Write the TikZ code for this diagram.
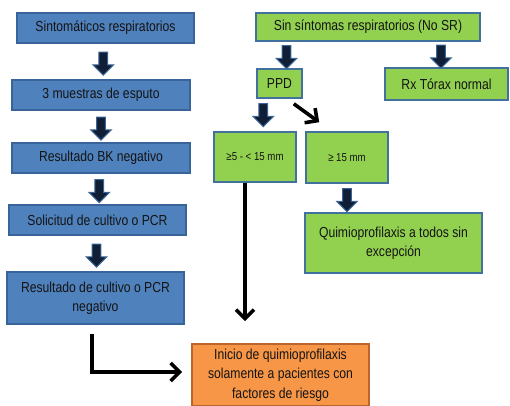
\documentclass[tikz,border=0pt]{standalone}
\usepackage{fontspec}
\setmainfont{Liberation Sans}[FakeStretch=0.84]
\usetikzlibrary{arrows.meta,shapes.arrows,calc}

\definecolor{bluefill}{HTML}{4F81BD}
\definecolor{blueline}{HTML}{38649A}
\definecolor{greenfill}{HTML}{92D050}
\definecolor{greenline}{HTML}{41719C}
\definecolor{orangefill}{HTML}{F79646}
\definecolor{orangeline}{HTML}{B9652C}
\definecolor{arrowfill}{HTML}{101E36}
\definecolor{arrowline}{HTML}{3B6596}
\definecolor{textdark}{HTML}{141414}

\tikzset{
  box/.style={draw, line width=1.6pt, inner sep=2pt, align=center,
    text=textdark, font=\fontsize{14.5}{19.5}\selectfont},
  bluebox/.style={box, fill=bluefill, draw=blueline},
  greenbox/.style={box, fill=greenfill, draw=greenline},
  orangebox/.style={box, fill=orangefill, draw=orangeline},
  smalltext/.style={font=\fontsize{11.5}{13}\selectfont},
  blockarrow/.style={single arrow, shape border rotate=270, fill=arrowfill,
    draw=arrowline, line width=1pt, inner sep=3.8pt, minimum height=23pt,
    single arrow head extend=6pt, single arrow head indent=0pt},
  blackarrow/.style={draw=black, line width=3.6pt,
    -{Straight Barb[length=9pt,width=18pt]}},
}

\begin{document}
\begin{tikzpicture}[x=1pt,y=-1pt]
\useasboundingbox (0,0) rectangle (510,405);

% left column: patients with respiratory symptoms
\node[bluebox, minimum width=177pt, minimum height=30pt] (b1) at (105.5,28) {Sintomáticos respiratorios};
\node[bluebox, minimum width=178pt, minimum height=30pt] (b2) at (101,95) {3 muestras de esputo};
\node[bluebox, minimum width=178pt, minimum height=30pt] (b3) at (101,158) {Resultado BK negativo};
\node[bluebox, minimum width=177pt, minimum height=30pt] (b4) at (97.5,220) {Solicitud de cultivo o PCR};
\node[bluebox, minimum width=177pt, minimum height=52pt] (b5) at (95.5,298) {Resultado de cultivo o PCR\\negativo};

% right column: no respiratory symptoms
\node[greenbox, minimum width=224pt, minimum height=28pt] (g1) at (368,27) {Sin síntomas respiratorios (No SR)};
\node[greenbox, minimum width=45pt, minimum height=29pt] (ppd) at (279.5,83.5) {PPD};
\node[greenbox, minimum width=123pt, minimum height=32pt] (rx) at (446.5,84) {Rx Tórax normal};
\node[greenbox, smalltext, minimum width=82pt, minimum height=50pt] (mid) at (255,157) {≥5 - < 15 mm};
\node[greenbox, smalltext, minimum width=82pt, minimum height=51pt] (hi) at (347,157.5) {≥ 15 mm};
\node[greenbox, minimum width=177pt, minimum height=60pt] (q) at (393.5,243) {Quimioprofilaxis a todos sin\\excepción};

% common outcome
\node[orangebox, minimum width=177pt, minimum height=62pt] (out) at (280.5,375) {Inicio de quimioprofilaxis\\solamente a pacientes con\\factores de riesgo};

% block arrows of the left column
\node[blockarrow] (a1) at ($(b1.south)!0.5!(b2.north)$) {};
\node[blockarrow] (a2) at ($(b2.south)!0.5!(b3.north)$) {};
\node[blockarrow] (a3) at ($(b3.south)!0.5!(b4.north)$) {};
\node[blockarrow] (a4) at ($(b4.south)!0.5!(b5.north)$) {};

% block arrows of the right column
\node[blockarrow] (a5) at ($(g1.south -| ppd.north)!0.5!(ppd.north)+(7,0)$) {};
\node[blockarrow] (a6) at ($(g1.south -| rx.north)!0.5!(rx.north)+(-5.5,0)$) {};
\node[blockarrow] (a7) at ($(ppd.south)!0.5!(mid.north)+(-4,-2)$) {};
\node[blockarrow] (a8) at ($(hi.south)!0.5!(hi.south |- q.north)$) {};

% line arrows
\draw[blackarrow] ($(ppd.south east)+(-9,5)$) -- ($(hi.north west)+(14,-9)$);
\draw[blackarrow] ($(mid.south)+(-10,0)$) -- ($(mid.south |- out.north)+(-10,-22)$);
\draw[blackarrow] ($(b5.south)+(-3.5,9)$) |- ($(out.west)+(-9,-3)$);
\end{tikzpicture}
\end{document}
